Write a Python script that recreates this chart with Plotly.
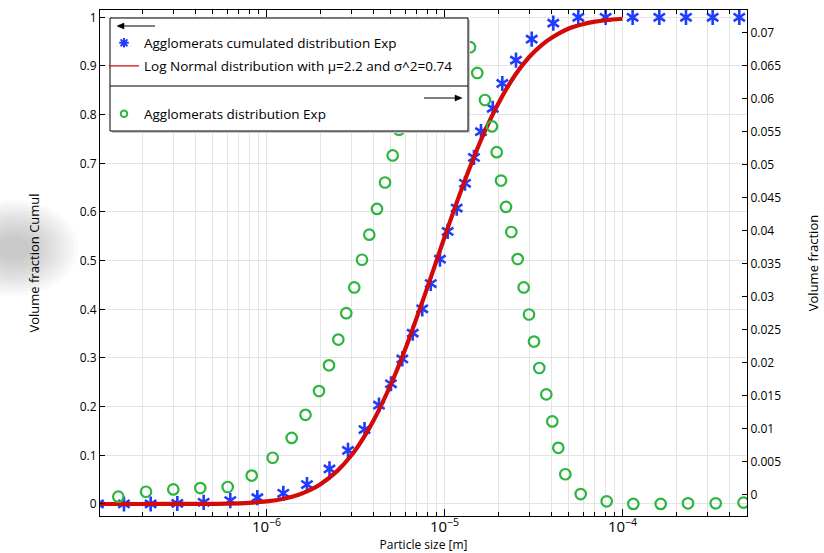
import plotly.graph_objects as go

# ---------------- data ----------------
cum_x = [1.13e-7, 1.582e-7, 2.235e-7, 3.155e-7, 4.437e-7, 6.26e-7, 8.88e-7, 1.243e-6,
         1.688e-6, 2.259e-6, 2.87e-6, 3.553e-6, 4.286e-6, 5.004e-6, 5.793e-6, 6.63e-6,
         7.5e-6, 8.37e-6, 9.43e-6, 1.042e-5, 1.171e-5, 1.304e-5, 1.464e-5, 1.603e-5,
         1.866e-5, 2.112e-5, 2.521e-5, 3.09e-5, 4.085e-5, 5.644e-5, 8.04e-5, 1.14e-4,
         1.61e-4, 2.273e-4, 3.21e-4, 4.53e-4]
cum_y = [0, 0, 0, 0.001, 0.0035, 0.007, 0.013, 0.022, 0.040, 0.072, 0.110, 0.153,
         0.203, 0.247, 0.298, 0.351, 0.401, 0.453, 0.503, 0.560, 0.608, 0.659, 0.712,
         0.765, 0.813, 0.864, 0.912, 0.955, 0.988, 1.0, 1.0, 1.0, 1.0, 1.0, 1.0, 1.0]

dist_x = [1.470e-7, 2.104e-7, 2.995e-7, 4.246e-7, 6.053e-7, 8.257e-7, 1.083e-6, 1.385e-6,
          1.656e-6, 1.972e-6, 2.244e-6, 2.532e-6, 2.806e-6, 3.112e-6, 3.439e-6, 3.779e-6,
          4.175e-6, 4.632e-6, 5.116e-6, 5.550e-6, 6.077e-6, 6.653e-6, 7.284e-6, 7.973e-6,
          8.730e-6, 9.557e-6, 1.046e-5, 1.146e-5, 1.250e-5, 1.391e-5, 1.528e-5, 1.688e-5,
          1.848e-5, 1.965e-5, 2.077e-5, 2.215e-5, 2.373e-5, 2.577e-5, 2.785e-5, 2.983e-5,
          3.182e-5, 3.408e-5, 3.731e-5, 4.033e-5, 4.358e-5, 4.772e-5, 5.822e-5, 8.149e-5,
          1.150e-4, 1.639e-4, 2.333e-4, 3.339e-4, 4.783e-4]
dist_y = [-0.0003, 0.00045, 0.0008, 0.0010, 0.00117, 0.0029, 0.0056, 0.0086, 0.0121,
          0.0157, 0.0196, 0.0235, 0.0275, 0.0314, 0.0356, 0.0394, 0.0433, 0.0473, 0.0514,
          0.0553, 0.0588, 0.0620, 0.0648, 0.0672, 0.0690, 0.0702, 0.0707, 0.0705, 0.0697,
          0.0678, 0.0639, 0.0598, 0.0558, 0.0519, 0.0476, 0.0436, 0.0398, 0.0357, 0.0314,
          0.0273, 0.0232, 0.0192, 0.0152, 0.0111, 0.0071, 0.0031, 0.0001, -0.0010,
          -0.0014, -0.0014, -0.0013, -0.0013, -0.0012]

fit_x = [1.13e-7, 2e-7, 4e-7, 6e-7, 8e-7, 1e-6, 1.25e-6, 1.5e-6, 1.75e-6, 2e-6, 2.5e-6,
         3e-6, 3.5e-6, 4e-6, 5e-6, 6e-6, 7e-6, 8e-6, 9e-6, 1e-5, 1.2e-5, 1.4e-5, 1.7e-5,
         2e-5, 2.5e-5, 3e-5, 3.5e-5, 4e-5, 5e-5, 6e-5, 7e-5, 8e-5, 1e-4]
fit_y = [0, 0, 0.0002, 0.0008, 0.0024, 0.0053, 0.0108, 0.0185, 0.0283, 0.040, 0.068,
         0.100, 0.1355, 0.172, 0.246, 0.317, 0.384, 0.444, 0.499, 0.548, 0.630, 0.695,
         0.769, 0.822, 0.882, 0.919, 0.9425, 0.958, 0.977, 0.986, 0.991, 0.994, 0.997]

name_cum = "Agglomerats cumulated distribution Exp"
name_fit = "Log Normal distribution with \u03bc=2.2 and \u03c3^2=0.74"
name_dist = "Agglomerats distribution Exp"

BLUE = "#1f3cff"
RED = "#d20a0a"
GREEN = "#2eb540"
GRID = "#e4e4e4"
FONT = "Open Sans"

# ---------------- geometry helpers (pixel -> paper) ----------------
W, H = 824, 553
ML, MR, MT, MB = 100, 77, 10, 37
PW, PH = W - ML - MR, H - MT - MB


def px(xp):
    return (xp - ML) / PW


def py(yp):
    return (H - MB - yp) / PH


def arrow_shapes(x_tail, x_head, y):
    d = 1 if x_head > x_tail else -1
    hl, hw = 7, 3
    tip = x_head
    base = x_head - d * hl
    return [
        dict(type="line", xref="paper", yref="paper", x0=px(x_tail), x1=px(base),
             y0=py(y), y1=py(y), line=dict(color="black", width=1), layer="above"),
        dict(type="path", xref="paper", yref="paper", layer="above",
             path=f"M {px(tip)},{py(y)} L {px(base)},{py(y - hw)} L {px(base)},{py(y + hw)} Z",
             fillcolor="black", line=dict(color="black", width=0.5)),
    ]


def smudge():
    # soft grey blur at the left edge of the picture (stacked faint ellipses)
    out = []
    n = 12
    for i in range(n):
        f = 1 - i / n
        rx, ry = 12 + 52 * f, 8 + 40 * f
        cx, cy = 14, 248
        out.append(dict(type="circle", xref="paper", yref="paper", layer="below",
                        x0=px(cx - rx), x1=px(cx + rx), y0=py(cy + ry), y1=py(cy - ry),
                        fillcolor="rgba(110,110,110,0.035)", line=dict(width=0)))
    return out


fig = go.Figure()

# cumulative (six-armed asterisk = y-up + y-down)
for sym in ("y-up-open", "y-down-open"):
    fig.add_trace(go.Scatter(
        x=cum_x, y=cum_y, mode="markers", showlegend=False, hoverinfo="skip",
        marker=dict(symbol=sym, size=9.5, color=BLUE, line=dict(width=2.6, color=BLUE))))

fig.add_trace(go.Scatter(
    x=fit_x, y=fit_y, mode="lines", showlegend=False, line_shape="spline",
    line=dict(color=RED, width=4.2)))

fig.add_trace(go.Scatter(
    x=dist_x, y=dist_y, mode="markers", yaxis="y2", showlegend=False,
    marker=dict(symbol="circle-open", size=10.5, color=GREEN, line=dict(width=2.2, color=GREEN))))

# legend entries
fig.add_trace(go.Scatter(x=[None], y=[None], mode="markers", name=name_cum, legend="legend",
                         marker=dict(symbol="asterisk-open", size=8, color=BLUE,
                                     line=dict(width=2, color=BLUE))))
fig.add_trace(go.Scatter(x=[None], y=[None], mode="lines", name=name_fit, legend="legend2",
                         line=dict(color=RED, width=1.2)))
fig.add_trace(go.Scatter(x=[None], y=[None], mode="markers", name=name_dist, legend="legend3",
                         marker=dict(symbol="circle-open", size=6.5, color=GREEN,
                                     line=dict(width=2, color=GREEN))))

leg_common = dict(bgcolor="rgba(0,0,0,0)", borderwidth=0, xanchor="left", yanchor="middle",
                  font=dict(family=FONT, size=13.5, color="black"))

axis_font = dict(family=FONT, size=12, color="black")

fig.update_layout(
    width=W, height=H,
    margin=dict(l=ML, r=MR, t=MT, b=MB, autoexpand=False),
    paper_bgcolor="white", plot_bgcolor="white",
    font=dict(family=FONT, size=12, color="black"),
    xaxis=dict(
        type="log", range=[-6.9354, -3.3006], dtick=1, exponentformat="power",
        ticks="inside", ticklen=7, tickcolor="black", showline=True, linecolor="black",
        linewidth=1, mirror="ticks", showgrid=True, gridcolor=GRID, zeroline=False,
        tickfont=axis_font, automargin=False, ticklabelstandoff=-2,
        minor=dict(dtick="D1", ticks="inside", ticklen=4, tickcolor="black",
                   showgrid=True, gridcolor=GRID),
        title=dict(text="Particle size [m]", font=dict(family=FONT, size=12), standoff=9),
    ),
    yaxis=dict(
        range=[-0.0247, 1.015], tick0=0, dtick=0.1, ticks="inside", ticklen=5,
        tickcolor="black", showline=True, linecolor="black", linewidth=1, mirror=False,
        showgrid=True, gridcolor=GRID, zeroline=False, tickfont=axis_font, automargin=False,
        title=dict(text="Volume fraction Cumul", font=dict(family=FONT, size=13), standoff=37),
    ),
    yaxis2=dict(
        overlaying="y", side="right", range=[-0.003227, 0.07344], tick0=0, dtick=0.005,
        ticks="inside", ticklen=5, tickcolor="black", showline=True, linecolor="black",
        linewidth=1, showgrid=False, zeroline=False, tickfont=axis_font, automargin=False,
        title=dict(text="Volume fraction", font=dict(family=FONT, size=13), standoff=28),
    ),
    legend=dict(x=px(104), y=py(43), **leg_common),
    legend2=dict(x=px(104), y=py(66), **leg_common),
    legend3=dict(x=px(104), y=py(114), **leg_common),
    shapes=smudge() + [
        dict(type="rect", xref="paper", yref="paper", x0=px(112), x1=px(470),
             y0=py(133), y1=py(20), fillcolor="#c8c8c8", line=dict(width=0), layer="above"),
        dict(type="rect", xref="paper", yref="paper", x0=px(110), x1=px(468),
             y0=py(131), y1=py(18), fillcolor="white", line=dict(color="black", width=1),
             layer="above"),
        dict(type="line", xref="paper", yref="paper", x0=px(110), x1=px(468),
             y0=py(86), y1=py(86), line=dict(color="black", width=1), layer="above"),
    ] + arrow_shapes(155, 117, 26) + arrow_shapes(424, 462, 98),
)

fig.write_html("out.html")
